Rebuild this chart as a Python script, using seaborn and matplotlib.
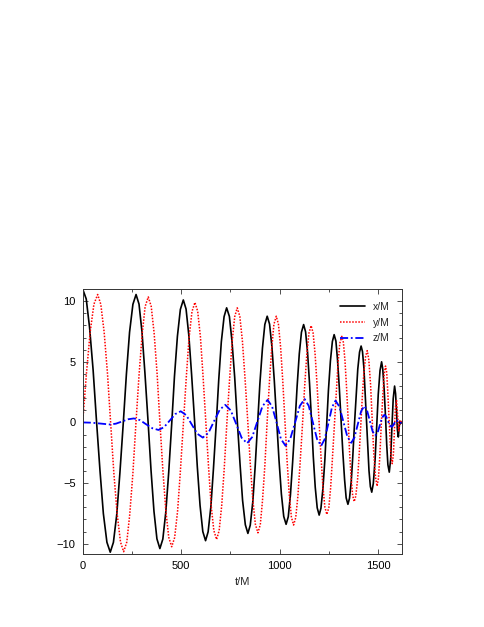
import matplotlib
matplotlib.use("Agg")
import matplotlib.pyplot as plt
import seaborn as sns
from matplotlib.ticker import MultipleLocator

# values (t/M and coordinate/M)
x_t = [0, 18, 35, 53, 70, 88, 105, 123, 140, 156, 173, 189, 206, 222, 238, 255,
       271, 286, 301, 316, 332, 347, 362, 377, 392, 407, 422, 437, 452, 466, 481, 496,
       511, 525, 539, 553, 568, 582, 596, 610, 624, 637, 651, 664, 678, 691, 704, 718,
       731, 745, 758, 772, 785, 799, 812, 826, 839, 851, 864, 876, 888, 900, 913, 925,
       937, 949, 961, 973, 985, 997, 1009, 1021, 1033, 1044, 1055, 1066, 1078, 1089, 1100, 1111,
       1122, 1132, 1142, 1152, 1162, 1171, 1181, 1191, 1201, 1210, 1220, 1230, 1239, 1248, 1258, 1268,
       1277, 1286, 1294, 1303, 1312, 1321, 1330, 1338, 1347, 1355, 1364, 1372, 1380, 1389, 1397, 1406,
       1414, 1421, 1428, 1434, 1441, 1448, 1454, 1461, 1468, 1476, 1485, 1493, 1501, 1510,
       1518, 1524, 1531, 1538, 1544, 1550, 1557, 1564, 1570, 1577, 1584, 1589, 1594, 1598,
       1603, 1607, 1610, 1614, 1619]
x_val = [11.0, 10.18, 7.82, 4.31, 0.15, -4.01, -7.52, -9.88, -10.7, -9.89, -7.59, -4.15, -0.08, 3.99, 7.44, 9.74,
         10.55, 9.76, 7.49, 4.09, 0.08, -3.94, -7.33, -9.60, -10.4, -9.62, -7.40, -4.08, -0.15, 3.78, 7.10, 9.32,
         10.1, 9.35, 7.19, 3.98, 0.18, -3.63, -6.84, -9.00, -9.75, -9.02, -6.94, -3.83, -0.15, 3.53, 6.64, 8.72,
         9.45, 8.74, 6.73, 3.71, 0.15, -3.41, -6.43, -8.44, -9.15, -8.47, -6.53, -3.62, -0.20, 3.23, 6.14, 8.08,
         8.76, 8.11, 6.25, 3.47, 0.18, -3.11, -5.89, -7.75, -8.4, -7.78, -5.99, -3.32, -0.17, 2.99, 5.66, 7.44,
         8.07, 7.47, 5.77, 3.22, 0.22, -2.79, -5.34, -7.04, -7.64, -7.07, -5.46, -3.05, -0.20, 2.65, 5.06, 6.67,
         7.24, 6.71, 5.19, 2.93, 0.25, -2.43, -4.70, -6.22, -6.75, -6.26, -4.84, -2.72, -0.23, 2.27, 4.39, 5.80,
         6.3, 5.84, 4.53, 2.58, 0.28, -2.03, -3.98, -5.29, -5.75, -5.03, -3.06, -0.38, 2.31, 4.28,
         5.0, 4.39, 2.73, 0.45, -1.83, -3.49, -4.1, -3.06, -0.55, 1.96, 3.0, 2.38, 0.9, -0.58,
         -1.2, -0.5, 0.1, -0.1, 0.0]

y_t = [0, 19, 38, 57, 76, 92, 109, 126, 142, 158, 175, 192, 208, 224, 239, 255, 270, 286, 302, 317,
       333, 348, 363, 378, 392, 407, 422, 437, 452, 467, 482, 496, 511, 526, 540, 555,
       570, 584, 598, 611, 625, 639, 652, 666, 680, 693, 706, 719, 732, 746, 759, 772,
       785, 798, 811, 824, 838, 851, 864, 877, 890, 902, 913, 925, 936, 948, 960, 971,
       983, 994, 1005, 1016, 1027, 1038, 1049, 1060, 1071, 1082, 1093, 1104, 1116, 1127, 1138, 1149,
       1160, 1170, 1180, 1190, 1200, 1210, 1220, 1230, 1240, 1250, 1259, 1268, 1278, 1288, 1297, 1306,
       1316, 1324, 1332, 1340, 1348, 1355, 1363, 1371, 1379, 1387, 1396, 1404, 1412, 1420, 1428, 1437,
       1445, 1453, 1462, 1470, 1478, 1487, 1495, 1502, 1509, 1516, 1524, 1531,
       1538, 1544, 1549, 1555, 1561, 1566, 1572, 1578, 1583, 1588, 1594, 1600, 1605, 1610, 1614, 1619]
y_val = [0.0, 4.04, 7.46, 9.75, 10.55, 9.74, 7.44, 4.01, -0.06, -4.12, -7.55, -9.86, -10.66, -9.86, -7.58, -4.18,
         -0.16, 3.87, 7.27, 9.55, 10.35, 9.57, 7.33, 3.99, 0.05, -3.89, -7.23, -9.47, -10.25, -9.49, -7.30, -4.04,
         -0.18, 3.69, 6.95, 9.14, 9.9, 9.16, 7.04, 3.87, 0.13, -3.62, -6.79, -8.91, -9.65, -8.92, -6.85, -3.76,
         -0.10, 3.56, 6.65, 8.72, 9.45, 8.75, 6.74, 3.73, 0.18, -3.38, -6.38, -8.40, -9.1, -8.42, -6.48, -3.59,
         -0.17, 3.25, 6.14, 8.08, 8.76, 8.11, 6.24, 3.45, 0.15, -3.15, -5.94, -7.81, -8.46, -7.84, -6.05, -3.39,
         -0.24, 2.91, 5.57, 7.36, 7.98, 7.39, 5.70, 3.18, 0.20, -2.78, -5.30, -6.99, -7.58, -7.02, -5.43, -3.05,
         -0.24, 2.57, 4.95, 6.54, 7.1, 6.59, 5.10, 2.90, 0.29, -2.32, -4.53, -6.01, -6.53, -6.06, -4.71, -2.69,
         -0.31, 2.08, 4.10, 5.45, 5.92, 5.17, 3.13, 0.33, -2.47, -4.51, -5.26, -4.60, -2.78, -0.31, 2.17, 3.99,
         4.65, 4.11, 2.64, 0.63, -1.39, -2.86, -3.4, -2.61, -0.70, 1.21, 1.8, 0.4, -0.7, -0.1, 0.2, 0.0]

z_t = [0, 45, 95, 139, 169, 200, 230, 260, 291, 322, 354, 385, 413, 442, 470, 498,
       526, 554, 582, 610, 639, 667, 696, 724, 752, 780, 807, 835, 861, 887, 913, 939,
       962, 985, 1007, 1030, 1054, 1079, 1103, 1127, 1148, 1169, 1190, 1211, 1229, 1248, 1266, 1284,
       1304, 1324, 1344, 1364, 1380, 1397, 1414, 1430, 1444, 1458, 1472, 1486, 1498, 1509, 1520, 1532,
       1541, 1550, 1559, 1568, 1575, 1582, 1588, 1595, 1603, 1610, 1619]
z_val = [0.0, -0.02, -0.10, -0.17, -0.10, 0.08, 0.26, 0.33, 0.19, -0.15, -0.48, -0.62, -0.39, 0.15, 0.69, 0.92,
         0.60, -0.17, -0.93, -1.25, -0.85, 0.10, 1.05, 1.45, 0.99, -0.14, -1.26, -1.72, -1.20, 0.07, 1.34, 1.86,
         1.31, -0.03, -1.37, -1.92, -1.36, 0.01, 1.37, 1.93, 1.37, 0.00, -1.37, -1.93, -1.38, -0.07, 1.25, 1.8,
         1.29, 0.06, -1.17, -1.68, -1.24, -0.16, 0.92, 1.36, 1.00, 0.14, -0.72, -1.08, -0.83, -0.23, 0.38, 0.63,
         0.49, 0.14, -0.22, -0.36, -0.28, -0.09, 0.10, 0.18, 0.0, -0.05, 0.0]

sns.set_style("ticks")
plt.rcParams['font.family'] = ['Liberation Sans', 'DejaVu Sans']

fig = plt.figure(figsize=(4.85, 6.27), dpi=100)
ax = fig.add_axes([0.1705, 0.1164, 0.6577, 0.4226])

sns.lineplot(x=x_t, y=x_val, ax=ax, color="black", linewidth=1.2, label="x/M")
sns.lineplot(x=y_t, y=y_val, ax=ax, color="#ff0000", linewidth=1.1,
             linestyle=(0, (1, 1)), label="y/M")
sns.lineplot(x=z_t, y=z_val, ax=ax, color="#0000ff", linewidth=1.3,
             linestyle=(0, (4.5, 1.5, 1, 1.5)), label="z/M")

ax.set_xlim(0, 1620)
ax.set_ylim(-10.85, 11.0)
ax.xaxis.set_major_locator(MultipleLocator(500))
ax.xaxis.set_minor_locator(MultipleLocator(250))
ax.yaxis.set_major_locator(MultipleLocator(5))
ax.yaxis.set_minor_locator(MultipleLocator(1))
ax.tick_params(which="both", direction="in", top=True, right=True,
               colors="#333333", labelcolor="black", labelsize=8, width=0.6)
ax.tick_params(which="major", length=3.5, pad=5)
ax.tick_params(which="minor", length=2)
for s in ax.spines.values():
    s.set_linewidth(0.7)
    s.set_color("#333333")

ax.set_xlabel("t/M", fontsize=8, labelpad=4)
ax.set_ylabel("")

ax.legend(loc="upper right", bbox_to_anchor=(0.963, 0.951), frameon=False,
          fontsize=7.5, borderpad=0, borderaxespad=0, handlelength=2.4,
          handletextpad=0.8, labelspacing=0.55)

fig.savefig("out.png", dpi=100)
